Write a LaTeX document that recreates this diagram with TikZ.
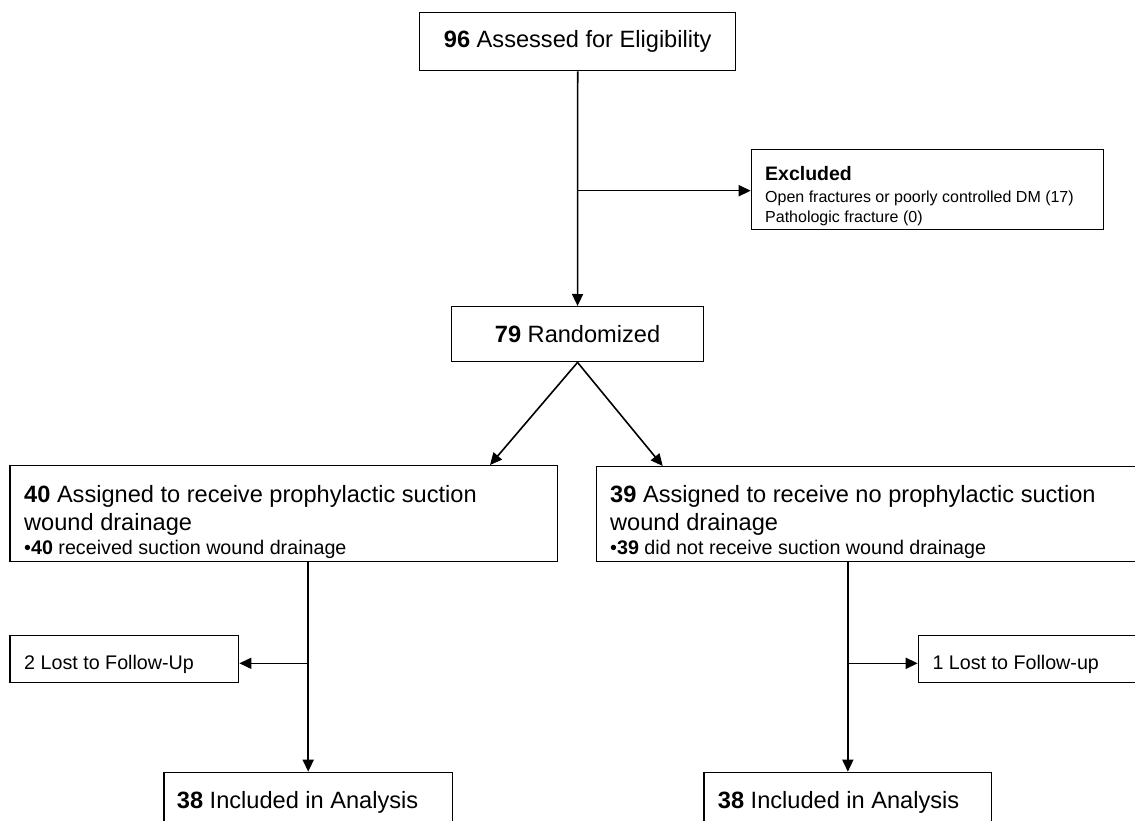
\documentclass[tikz,border=0pt]{standalone}
\usepackage{fontspec}
\setmainfont{Liberation Sans}
\usetikzlibrary{arrows.meta}
\begin{document}
\begin{tikzpicture}[x=1pt,y=-1pt,
  box/.style={draw=black, line width=1.4pt, rectangle, inner sep=0pt, anchor=north west},
  cbox/.style={draw=black, line width=1.4pt, rectangle, inner sep=0pt, anchor=north west, text=black},
  txt/.style={anchor=base west, inner sep=0pt, text=black},
  big/.style={font=\fontsize{23.6}{28}\selectfont},
  small/.style={font=\fontsize{19.7}{24}\selectfont},
  tiny/.style={font=\fontsize{16}{20}\selectfont},
  conn/.style={draw=black, line width=1.6pt, -{Triangle[length=12pt,width=11pt]}},
  ]
\path[use as bounding box, clip] (0,0) rectangle (1135,821);
\fill[white] (0,0) rectangle (1135,821);

% boxes
\node[cbox, big, minimum width=316pt, minimum height=58pt] (elig) at (419,12) {\textbf{96} Assessed for Eligibility};
\node[cbox, big, minimum width=316pt, minimum height=55pt, minimum width=252.3pt] (rand) at (450.7,306) {\textbf{79} Randomized};
\node[box, minimum width=352.3pt, minimum height=80pt] (excl) at (750.7,149) {};
\node[box, minimum width=547.4pt, minimum height=95.7pt] (a40) at (9.3,465) {};
\node[box, minimum width=600pt, minimum height=94.7pt] (a39) at (595.7,466) {};
\node[box, minimum width=228.7pt, minimum height=46.7pt] (lostL) at (9.3,635) {};
\node[box, minimum width=300pt, minimum height=46.7pt] (lostR) at (917.7,635) {};
\node[box, minimum width=288.4pt, minimum height=70pt] (b38L) at (163.3,771.7) {};
\node[box, minimum width=287.7pt, minimum height=70pt] (b38R) at (703.3,771.7) {};

% texts
\node[txt, font=\fontsize{19.5}{24}\selectfont\bfseries] (ex1) at (765,180.7) {Excluded};
\node[txt, tiny] (ex2) at (765,203) {Open fractures or poorly controlled DM (17)};
\node[txt, tiny] (ex3) at (765,222.7) {Pathologic fracture (0)};

\node[txt, big] (t40a) at (24,502.7) {\textbf{40} Assigned to receive prophylactic suction};
\node[txt, big] (t40b) at (24,530) {wound drainage};
\node[txt, small] (t40c) at (24,554) {•\textbf{40} received suction wound drainage};

\node[txt, big] (t39a) at (610,502.7) {\textbf{39} Assigned to receive no prophylactic suction};
\node[txt, big] (t39b) at (610,530) {wound drainage};
\node[txt, small] (t39c) at (610,554) {•\textbf{39} did not receive suction wound drainage};

\node[txt, small] (tlL) at (24,669) {2 Lost to Follow-Up};
\node[txt, small] (tlR) at (932.3,669) {1 Lost to Follow-up};

\node[txt, big] (tbL) at (176.7,808.3) {\textbf{38} Included in Analysis};
\node[txt, big] (tbR) at (717.7,808.3) {\textbf{38} Included in Analysis};

% connectors
\coordinate (h1) at (0,190.7);
\coordinate (h2) at (0,663.3);
\coordinate (j1) at (elig.south |- h1);
\coordinate (la) at (490,465);
\coordinate (ra) at (662.7,466);
\coordinate (j2) at (b38L.north |- h2);
\coordinate (j3) at (b38R.north |- h2);

\draw[conn] (elig.south) -- (rand.north);
\draw[conn] (j1) -- (j1 -| excl.west);
\draw[conn] (rand.south) -- (la);
\draw[conn] (rand.south) -- (ra);
\draw[conn] (a40.south -| b38L.north) -- (b38L.north);
\draw[conn] (j2) -- (j2 -| lostL.east);
\draw[conn] (a39.south -| b38R.north) -- (b38R.north);
\draw[conn] (j3) -- (j3 -| lostR.west);
\end{tikzpicture}
\end{document}
